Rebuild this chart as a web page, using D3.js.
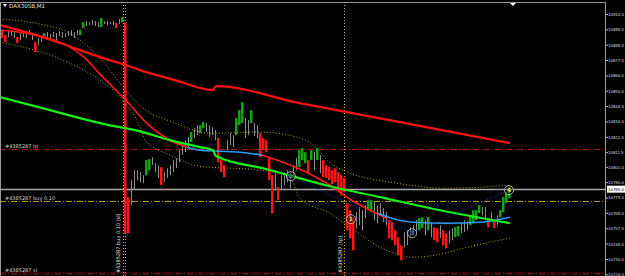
<!DOCTYPE html>
<html><head><meta charset="utf-8">
<script src="https://cdn.jsdelivr.net/npm/d3@7"></script>
<style>html,body{margin:0;padding:0;background:#000;overflow:hidden}</style>
</head><body>
<svg id="c" width="625" height="276"></svg>
<script>
// ---------- DATA ----------
const barHigh = [
10899.0,10895.4,10898.3,10899.0,10897.6,10894.0,10896.8,10898.3,10897.6,10899.0,
10896.1,10890.4,10893.3,10894.7,10896.8,10897.6,10896.1,10897.6,10896.8,10898.3,
10897.6,10896.8,10898.3,10899.0,10897.6,10899.0,10899.0,10904.7,10905.4,10904.7,
10906.2,10905.4,10904.7,10907.6,10905.4,10905.4,10904.7,10905.4,10904.0,10906.9,
10908.3,10904.7,10779.3,10791.4,10798.6,10798.6,10797.2,10795.0,10805.8,10806.5,
10807.9,10803.6,10802.2,10800.8,10797.2,10800.0,10802.2,10805.8,10807.2,10812.9,
10816.5,10820.1,10822.3,10825.9,10828.7,10830.9,10830.9,10833.0,10832.3,10830.9,
10829.4,10827.3,10821.6,10805.8,10802.2,10820.1,10825.1,10823.7,10835.9,10841.6,
10847.4,10835.9,10834.5,10841.6,10832.3,10830.9,10825.1,10821.6,10820.1,10807.9,
10795.0,10798.6,10786.4,10795.0,10797.2,10798.6,10795.0,10802.2,10807.2,10812.9,
10814.4,10811.5,10805.8,10812.9,10811.5,10814.4,10809.4,10805.8,10802.2,10800.8,
10798.6,10800.0,10797.2,10795.0,10792.9,10774.9,10769.9,10764.9,10768.5,10772.1,
10769.9,10773.5,10777.1,10777.1,10775.7,10773.5,10774.9,10771.4,10768.5,10762.8,
10761.3,10755.6,10750.6,10744.8,10754.2,10755.6,10757.7,10759.2,10762.8,10764.2,
10764.9,10762.8,10764.9,10761.3,10757.7,10757.0,10759.2,10755.6,10753.4,10755.6,
10757.0,10757.7,10758.5,10761.3,10762.8,10762.0,10766.3,10769.9,10769.9,10773.5,
10772.1,10772.1,10764.2,10768.5,10762.8,10766.3,10769.9,10779.3,10782.8,10786.4];
const barLow = [
10893.3,10890.4,10894.0,10894.7,10893.3,10889.7,10891.8,10894.0,10893.3,10895.4,
10891.8,10883.2,10888.2,10890.4,10893.3,10893.3,10892.5,10894.0,10891.8,10894.7,
10893.3,10894.0,10894.7,10894.7,10893.3,10895.4,10895.4,10900.4,10901.9,10902.6,
10902.6,10901.9,10901.1,10901.1,10903.3,10902.6,10903.3,10902.6,10900.4,10903.3,
10904.7,10753.4,10753.4,10773.5,10784.3,10791.4,10790.0,10789.3,10795.0,10798.6,
10802.2,10797.2,10792.9,10787.9,10790.0,10792.9,10795.0,10797.2,10800.0,10804.3,
10809.4,10811.5,10814.4,10818.7,10821.6,10823.7,10825.1,10828.7,10825.9,10822.3,
10823.7,10820.1,10804.3,10797.2,10793.6,10812.9,10816.5,10815.1,10823.7,10830.9,
10832.3,10821.6,10823.7,10832.3,10823.0,10821.6,10807.9,10812.9,10811.5,10791.4,
10767.8,10784.3,10777.1,10784.3,10787.9,10790.0,10785.7,10792.9,10798.6,10800.8,
10805.8,10803.6,10796.5,10805.8,10798.6,10805.8,10796.5,10793.6,10792.9,10791.4,
10788.6,10790.0,10784.3,10780.7,10782.8,10755.6,10749.9,10741.2,10757.0,10759.2,
10755.6,10764.2,10769.9,10768.5,10762.8,10760.6,10766.3,10761.3,10759.2,10749.9,
10748.4,10744.8,10737.7,10734.1,10743.4,10744.8,10750.6,10752.0,10754.2,10755.6,
10757.0,10752.0,10755.6,10750.6,10748.4,10747.0,10749.9,10744.8,10742.7,10746.3,
10748.4,10750.6,10751.3,10753.4,10754.2,10755.6,10759.2,10760.6,10762.8,10767.8,
10766.3,10762.8,10757.7,10761.3,10757.0,10759.2,10764.9,10768.5,10774.9,10778.5];
// g = up trend colour, r = down trend colour, n = neutral
const barColor = ("rrnnnrnnnn"+"nrnngnnnnn"+"nnnnnnggnn"+"nnngnnnnrn"+"grrnnnnngg"+
  "nnnrnnnnnn"+"nnngnnggnn"+"nnrrrnnngg"+"gnngnnrrrr"+"rnrnnnnnng"+
  "ggrgngnrrr"+"rrrrrrrrnn"+"nnggnnnnnr"+"rrrrnnnnng"+"gngnrrnrrn"+
  "nggnnngggg"+"nnrnrngggg").split("");

// moving averages / bands : [bar index, price]
const slowMA = [[-0.7,10902.6],[9.3,10896.8],[19.3,10889.7],[32.7,10879.6],[40.3,10874.6],[46,10870.3],
  [57.7,10863.1],[70.3,10856.0],[71.3,10858.8],[99.3,10846.6],[132.7,10833.0],[169.3,10818.0]];
const greenMA = [[-0.7,10851.0],[16,10841.6],[32.7,10832.3],[47,10825.9],[56,10820.1],[66,10815.1],
  [70.3,10812.9],[71.3,10808.7],[88.3,10799.3],[109.3,10787.1],[126,10779.3],[146,10769.9],[169.3,10760.6]];
const midRed1 = [[-0.7,10899.0],[12.7,10894.7],[22.7,10886.8],[27.7,10878.9],[32.7,10867.4],[40.3,10851.0],
  [49.3,10830.2],[56,10820.1],[61.7,10815.1]];
const midBlue1 = [[61.7,10815.1],[66,10812.9],[72.7,10812.2],[79.3,10811.5],[86.7,10809.4]];
const midRed2 = [[86.7,10809.4],[99.3,10799.3],[109.3,10787.9],[116,10777.8],[122.7,10769.9],[128.3,10764.2]];
const midBlue2 = [[125.3,10767.8],[131,10763.5],[137,10761.3],[148.3,10760.6],[159.3,10761.3],[169.3,10764.9]];
const upperBand = [[-0.7,10906.9],[12.7,10903.3],[21.7,10897.6],[29.3,10886.1],[32.7,10878.9],[36,10870.3],
  [40.3,10858.1],[47,10843.1],[57,10833.0],[69.3,10825.1],[86,10825.9],[98.3,10822.3],[105,10814.4],
  [108.3,10805.8],[113.7,10798.6],[131.7,10789.3],[148.3,10785.7],[169.3,10787.9]];
const lowerBand = [[-0.7,10890.4],[16,10881.1],[26,10871.7],[32.7,10863.1],[40.3,10848.8],[46,10829.4],
  [47.7,10820.1],[56,10809.4],[66,10801.5],[86,10798.6],[96,10793.6],[99.3,10778.5],[109.3,10767.8],
  [116,10757.7],[126,10743.4],[137,10736.2],[146,10738.4],[153.7,10742.7],[169.3,10749.9]];
const waveIdx = [96.3, 116.3, 136.7, 169];
const wavePrice = [10794.3, 10763.5, 10753.4, 10784.3];
const waveLabel = ["2", "1", "3", "4"];
const waveFill = ["#3a7bd5", "#f0e060", "#3a7bd5", "#f0e060"];

const priceTicks = [10910.5,10899.5,10888.5,10877.5,10866.5,10855.5,10844.5,10833.5,10822.5,10811.5,
  10801.0,10790.0,10779.0,10768.0,10757.0,10746.0,10735.0,10724.0];
const bidPrice = 10785.0;
const tpPrice = 10813.5, buyPrice = 10776.5, slPrice = 10725.0;
const orderLabels = ["#4385287 tp", "#4385287 buy 0.10", "#4385287 sl"];
const vLineIdx = [40.3, 114];
const title = "DAX30SB,M1";

// ---------- DRAW ----------
const W = 625, H = 276, plotR = 605, plotT = 2;
const svg = d3.select("#c");
svg.append("rect").attr("width", W).attr("height", H).attr("fill", "#000");
const x = d3.scaleLinear().domain([0, 169]).range([2, 509]);
const y = d3.scaleLinear().domain([10910.5, 10724.0]).range([14, 274.3]);

svg.append("defs").append("clipPath").attr("id", "clip")
  .append("rect").attr("x", 0).attr("y", plotT).attr("width", plotR).attr("height", H - plotT);
const g = svg.append("g").attr("clip-path", "url(#clip)");

// order lines
function hline(p, color, dash, w) {
  g.append("line").attr("x1", 0).attr("x2", plotR).attr("y1", Math.round(y(p)) + 0.5).attr("y2", Math.round(y(p)) + 0.5)
    .attr("stroke", color).attr("stroke-width", w || 1).attr("stroke-dasharray", dash || null);
}
hline(tpPrice, "#b01010", "6,2,1,2");
hline(buyPrice, "#b89c10", "6,2,1,2");
hline(slPrice, "#8a0c0c", "6,2,1,2", 1.5);
hline(bidPrice, "#a8a8a8", null, 1.3);

// vertical lines
vLineIdx.forEach(i => {
  g.append("line").attr("x1", Math.round(x(i)) + 0.5).attr("x2", Math.round(x(i)) + 0.5).attr("y1", plotT).attr("y2", H)
    .attr("stroke", "#d8c020").attr("stroke-dasharray", "1,2");
});
g.append("line").attr("x1", Math.round(x(vLineIdx[0])) + 2.5).attr("x2", Math.round(x(vLineIdx[0])) + 2.5)
  .attr("y1", plotT).attr("y2", H).attr("stroke", "#b0b0b0").attr("stroke-dasharray", "1,2");

// bands
const lineGen = d3.line().x(d => x(d[0])).y(d => y(d[1])).curve(d3.curveMonotoneX);
g.append("path").attr("d", lineGen(upperBand)).attr("fill", "none").attr("stroke", "#c8a818").attr("stroke-dasharray", "1,2");
g.append("path").attr("d", lineGen(lowerBand)).attr("fill", "none").attr("stroke", "#c8a818").attr("stroke-dasharray", "1,2");

// bars
barHigh.forEach((h, i) => {
  const c = barColor[i];
  const y1 = y(h), y2 = y(barLow[i]);
  if (c === "n") {
    g.append("line").attr("x1", Math.round(x(i)) + 0.5).attr("x2", Math.round(x(i)) + 0.5)
      .attr("y1", y1).attr("y2", y2).attr("stroke", "#8e8e8e").attr("stroke-width", 1);
  } else {
    g.append("rect").attr("x", Math.round(x(i)) - 1).attr("width", 2.5)
      .attr("y", y1).attr("height", Math.max(1, y2 - y1))
      .attr("fill", c === "g" ? "#15a315" : "#ff1515");
  }
});

// MAs
g.append("path").attr("d", lineGen(midRed1)).attr("fill", "none").attr("stroke", "#ff1a1a").attr("stroke-width", 1.6);
g.append("path").attr("d", lineGen(midRed2)).attr("fill", "none").attr("stroke", "#ff1a1a").attr("stroke-width", 1.6);
g.append("path").attr("d", lineGen(midBlue1)).attr("fill", "none").attr("stroke", "#2a9df4").attr("stroke-width", 1.6);
g.append("path").attr("d", lineGen(midBlue2)).attr("fill", "none").attr("stroke", "#2a9df4").attr("stroke-width", 1.6);
g.append("path").attr("d", lineGen(slowMA)).attr("fill", "none").attr("stroke", "#ff1010").attr("stroke-width", 2.2);
g.append("path").attr("d", lineGen(greenMA)).attr("fill", "none").attr("stroke", "#18f018").attr("stroke-width", 2.2);

// zigzag between wave points
const zz = waveIdx.map((d, i) => [d, wavePrice[i]]).filter((d, i) => i !== 1);
g.append("path").attr("d", d3.line().x(d => x(d[0])).y(d => y(d[1]))(zz)).attr("fill", "none")
  .attr("stroke", "#2030c0").attr("stroke-dasharray", "1,2");

// wave markers
waveIdx.forEach((d, i) => {
  const cx = x(d), cy = y(wavePrice[i]);
  g.append("circle").attr("cx", cx).attr("cy", cy).attr("r", 4.5).attr("fill", "#000").attr("fill-opacity", 0.4)
    .attr("stroke", "#d0d0d0").attr("stroke-width", 0.8);
  g.append("text").attr("x", cx).attr("y", cy + 2).attr("text-anchor", "middle").attr("font-size", 6)
    .attr("font-family", "DejaVu Sans").attr("font-weight", "bold").attr("fill", waveFill[i]).text(waveLabel[i]);
});

// order labels
[tpPrice, buyPrice, slPrice].forEach((p, i) => {
  svg.append("text").attr("x", 5).attr("y", y(p) - 1).attr("font-size", 5).attr("font-family", "DejaVu Sans")
    .attr("fill", "#d8d8d8").text(orderLabels[i]);
});

// vertical order text labels
[[vLineIdx[0], "#4385287 buy 0.10 [sl]"], [vLineIdx[1], "#4385287 [tp]"]].forEach(([i, t], k) => {
  const tx = x(i) - 2.5;
  const tg = svg.append("g").attr("transform", `translate(${tx},${H - 3}) rotate(-90)`);
  tg.append("text").attr("x", 0).attr("y", 0).attr("font-size", 5).attr("font-family", "DejaVu Sans")
    .attr("fill", "#e8e8e8").text(t);
});

// frame
svg.append("line").attr("x1", 0).attr("x2", plotR).attr("y1", plotT + 0.5).attr("y2", plotT + 0.5).attr("stroke", "#9a9a9a");
svg.append("line").attr("x1", 0.5).attr("x2", 0.5).attr("y1", plotT).attr("y2", H).attr("stroke", "#9a9a9a");
svg.append("line").attr("x1", plotR + 0.5).attr("x2", plotR + 0.5).attr("y1", plotT).attr("y2", H).attr("stroke", "#9a9a9a");

// price axis
const axis = d3.axisRight(y).tickValues(priceTicks).tickFormat(d3.format(".1f")).tickSize(2).tickPadding(0);
const ag = svg.append("g").attr("transform", `translate(${plotR + 1},0)`).call(axis);
ag.select(".domain").remove();
ag.selectAll("line").attr("stroke", "#c0c0c0");
ag.selectAll("text").attr("font-size", 4.4).attr("font-family", "Liberation Sans").attr("fill", "#d8dce8");

// bid box
svg.append("rect").attr("x", plotR + 2).attr("y", y(bidPrice) - 3.5).attr("width", W - plotR - 2).attr("height", 7).attr("fill", "#fff");
svg.append("text").attr("x", plotR + 3).attr("y", y(bidPrice) + 1.6).attr("font-size", 4.4).attr("font-family", "Liberation Sans")
  .attr("fill", "#000").text(d3.format(".1f")(bidPrice));

// title
svg.append("path").attr("d", "M3,4 L7,4 L5,7 Z").attr("fill", "#fff");
svg.append("text").attr("x", 9).attr("y", 7.5).attr("font-size", 5.5).attr("font-family", "DejaVu Sans")
  .attr("fill", "#e0e0e0").text(title);
// shift marker
svg.append("path").attr("d", "M510,3 L516,3 L513,6 Z").attr("fill", "#fff");
</script>
</body></html>
